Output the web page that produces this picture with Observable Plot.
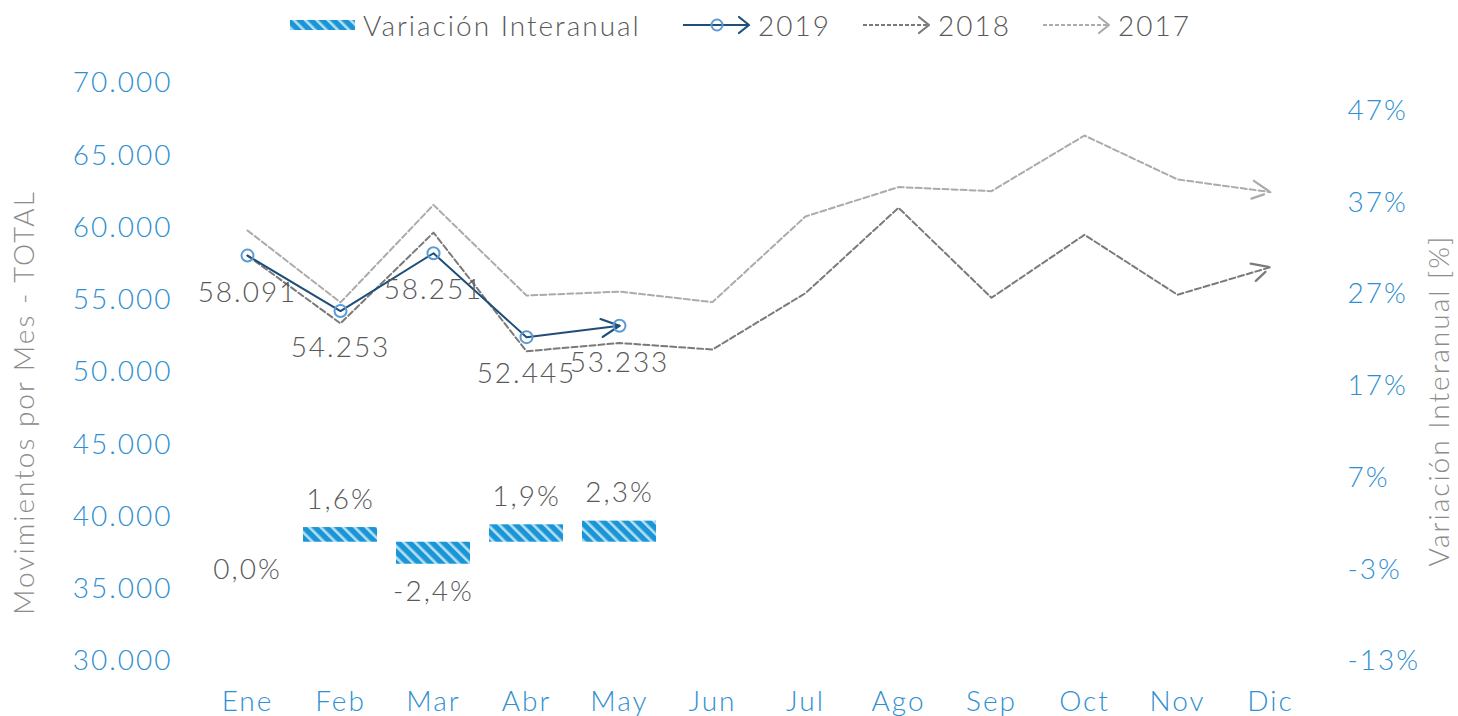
<!DOCTYPE html>
<html><head><meta charset="utf-8">
<script src="https://cdn.jsdelivr.net/npm/d3@7"></script>
<script src="https://cdn.jsdelivr.net/npm/@observablehq/plot@0.6"></script>
<style>
body{margin:0;background:#fff;font-family:Lato,"Noto Sans",sans-serif;font-weight:300;}
#legend{position:relative;height:50px;width:1458px;}
#legend .it{position:absolute;top:0;height:50px;display:flex;align-items:center;}
#legend .tx{position:absolute;top:0;height:50px;line-height:50px;font-size:28px;color:#595959;font-weight:300;letter-spacing:2px;}
#chart svg{display:block;letter-spacing:2px;}
</style></head><body>
<div id="legend"></div>
<div id="chart"></div>
<script>
// ---- data ----
const months = ["Ene","Feb","Mar","Abr","May","Jun","Jul","Ago","Sep","Oct","Nov","Dic"];
const values2019 = [58091, 54253, 58251, 52445, 53233];
const values2018 = [58091, 53400, 59680, 51470, 52040, 51590, 55490, 61400, 55170, 59530, 55380, 57290];
const values2017 = [59830, 54850, 61600, 55330, 55600, 54870, 60800, 62830, 62550, 66400, 63360, 62480];
const variacion = [0.0, 1.6, -2.4, 1.9, 2.3];
const leftTicks = [30000, 35000, 40000, 45000, 50000, 55000, 60000, 65000, 70000];
const rightTicks = [-13, -3, 7, 17, 27, 37, 47];
const leftDomain = [30000, 70000];
const rightDomain = [-13, 50];
const seriesNames = ["Variación Interanual", "2019", "2018", "2017"];

// ---- helpers ----
const toLeft = p => leftDomain[0] + (p - rightDomain[0]) / (rightDomain[1] - rightDomain[0]) * (leftDomain[1] - leftDomain[0]);
const toRight = v => rightDomain[0] + (v - leftDomain[0]) / (leftDomain[1] - leftDomain[0]) * (rightDomain[1] - rightDomain[0]);
const fmtThousands = v => d3.format(",")(v).replace(/,/g, ".");
const fmtPct = p => p.toFixed(1).replace(".", ",") + "%";

const d2019 = values2019.map((v, i) => ({month: months[i], v}));
const d2018 = values2018.map((v, i) => ({month: months[i], v}));
const d2017 = values2017.map((v, i) => ({month: months[i], v}));
const dVar = variacion.map((p, i) => ({month: months[i], p}));

const C = {blue: "#2f8fd1", label: "#595959", title: "#8c8c8c", l19: "#1f4e79", dot19: "#5b9bd5", l18: "#7a7a7a", l17: "#ababab"};
const FONT = 28;

const plot = Plot.plot({
  width: 1458, height: 666,
  marginLeft: 196, marginRight: 137, marginTop: 33, marginBottom: 55,
  style: {fontFamily: "Lato, 'Noto Sans', sans-serif", fontSize: FONT + "px", fontWeight: 300, background: "#fff"},
  x: {type: "band", domain: months, paddingInner: 0.2, paddingOuter: 0.1},
  y: {domain: leftDomain},
  marks: [
    Plot.barY(dVar, {x: "month", y1: () => toLeft(0), y2: d => toLeft(d.p), fill: "url(#stripes)"}),
    Plot.lineY(d2017, {x: "month", y: "v", stroke: C.l17, strokeWidth: 2, strokeDasharray: "6,3", markerEnd: "arrow"}),
    Plot.lineY(d2018, {x: "month", y: "v", stroke: C.l18, strokeWidth: 2, strokeDasharray: "6,3", markerEnd: "arrow"}),
    Plot.lineY(d2019, {x: "month", y: "v", stroke: C.l19, strokeWidth: 2, markerEnd: "arrow"}),
    Plot.dot(d2019, {x: "month", y: "v", r: 6, stroke: C.dot19, strokeWidth: 2, fill: "none"}),
    Plot.text(d2019, {x: "month", y: "v", text: d => fmtThousands(d.v), dy: 37, fill: C.label, fontSize: FONT}),
    Plot.text(dVar.filter(d => d.p > 0), {x: "month", y: d => toLeft(d.p), text: d => fmtPct(d.p), dy: -28, fill: C.label, fontSize: FONT}),
    Plot.text(dVar.filter(d => d.p <= 0), {x: "month", y: d => toLeft(d.p), text: d => fmtPct(d.p), dy: 28, fill: C.label, fontSize: FONT}),
    Plot.axisY({anchor: "left", ticks: leftTicks, tickFormat: fmtThousands, tickSize: 0, tickPadding: 24, color: C.blue, fontSize: FONT, label: null}),
    Plot.axisY({anchor: "right", ticks: rightTicks.map(toLeft), tickFormat: v => Math.round(toRight(v)) + "%", tickSize: 0, tickPadding: 26, color: C.blue, fontSize: FONT, label: null}),
    Plot.axisX({anchor: "bottom", tickSize: 0, tickPadding: 30, color: C.blue, fontSize: FONT, label: null}),
    Plot.text(["Movimientos por Mes - TOTAL"], {frameAnchor: "left", textAnchor: "middle", rotate: -90, dx: -171, dy: 30, fill: C.title, fontSize: FONT, text: d => d}),
    Plot.text(["Variación Interanual [%]"], {frameAnchor: "right", textAnchor: "middle", rotate: -90, dx: 119, dy: 28, fill: C.title, fontSize: FONT, text: d => d})
  ]
});

// stripe pattern
const svgNS = "http://www.w3.org/2000/svg";
function addPattern(svg, id) {
  let defs = svg.querySelector("defs");
  if (!defs) { defs = document.createElementNS(svgNS, "defs"); svg.insertBefore(defs, svg.firstChild); }
  defs.insertAdjacentHTML("beforeend",
    `<pattern id="${id}" patternUnits="userSpaceOnUse" width="8" height="8" patternTransform="rotate(-45)">
       <rect width="8" height="8" fill="#1a96d6"/>
       <rect x="0" width="2.6" height="8" fill="#b5dff5"/>
     </pattern>`);
}
addPattern(plot, "stripes");

// enlarge arrow markers
plot.querySelectorAll("marker").forEach(m => {
  m.setAttribute("markerUnits", "userSpaceOnUse");
  m.setAttribute("viewBox", "-7 -4 8 8");
  m.setAttribute("markerWidth", 24);
  m.setAttribute("markerHeight", 24);
  m.setAttribute("stroke-width", 0.75);
  m.setAttribute("overflow", "visible");
  const p = m.querySelector("path");
  if (p) p.setAttribute("d", "M-6,-3L0,0L-6,3");
});
document.getElementById("chart").appendChild(plot);

// legend
const legend = document.getElementById("legend");
const items = [
  {name: seriesNames[0], sx: 290, tx: 363, sw: `<svg width="66" height="14"><defs><pattern id="lstripes" patternUnits="userSpaceOnUse" width="8" height="8" patternTransform="rotate(-45)"><rect width="8" height="8" fill="#1a96d6"/><rect width="2.6" height="8" fill="#b5dff5"/></pattern></defs><rect x="0" y="2" width="65" height="10" fill="url(#lstripes)"/></svg>`},
  {name: seriesNames[1], sx: 682, tx: 758, sw: `<svg width="70" height="24"><line x1="1" y1="12" x2="66" y2="12" stroke="${C.l19}" stroke-width="2"/><circle cx="35" cy="12" r="5.5" fill="none" stroke="${C.dot19}" stroke-width="2"/><path d="M57,4L67,12L57,20" fill="none" stroke="${C.l19}" stroke-width="2.2" stroke-linecap="round" stroke-linejoin="round"/></svg>`},
  {name: seriesNames[2], sx: 862, tx: 938, sw: `<svg width="70" height="24"><line x1="1" y1="12" x2="66" y2="12" stroke="${C.l18}" stroke-width="2" stroke-dasharray="4,2"/><path d="M57,4L67,12L57,20" fill="none" stroke="${C.l18}" stroke-width="2.2" stroke-linecap="round" stroke-linejoin="round"/></svg>`},
  {name: seriesNames[3], sx: 1042, tx: 1118, sw: `<svg width="70" height="24"><line x1="1" y1="12" x2="66" y2="12" stroke="${C.l17}" stroke-width="2" stroke-dasharray="4,2"/><path d="M57,4L67,12L57,20" fill="none" stroke="${C.l17}" stroke-width="2.2" stroke-linecap="round" stroke-linejoin="round"/></svg>`}
];
items.forEach(it => {
  const s = document.createElement("div"); s.className = "it"; s.style.left = it.sx + "px"; s.innerHTML = it.sw; legend.appendChild(s);
  const t = document.createElement("div"); t.className = "tx"; t.style.left = it.tx + "px"; t.textContent = it.name; legend.appendChild(t);
});
</script>
</body></html>
